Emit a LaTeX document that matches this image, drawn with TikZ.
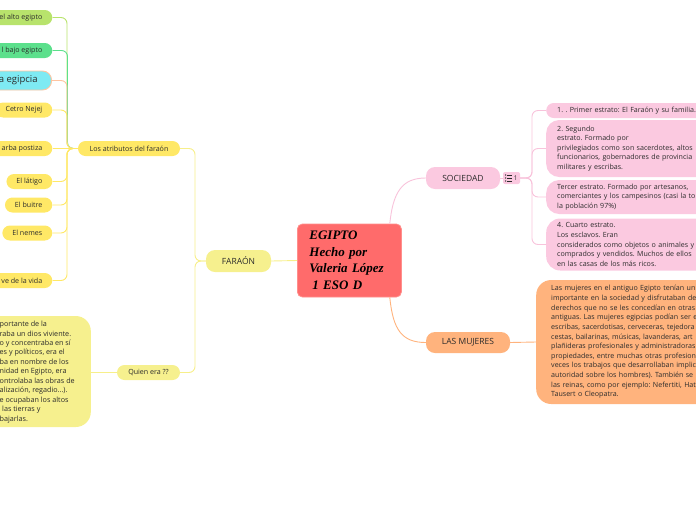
\documentclass[tikz,border=0pt]{standalone}
\usepackage{fontspec}
\setmainfont{Open Sans}
\newfontfamily\titlefont{Liberation Serif}
\definecolor{coral}{HTML}{FF6B6B}
\definecolor{coralb}{HTML}{FF8F8C}
\definecolor{paley}{HTML}{F6F08E}
\definecolor{yel}{HTML}{FFE866}
\definecolor{limec}{HTML}{B8E36C}
\definecolor{grn}{HTML}{5CE08C}
\definecolor{cyn}{HTML}{7EEAF3}
\definecolor{peach}{HTML}{FFC4A0}
\definecolor{pnk}{HTML}{FBC9E0}
\definecolor{pnkline}{HTML}{F8C3DB}
\definecolor{org}{HTML}{FFB37D}
\definecolor{txt}{HTML}{2B2B2B}
\tikzset{
  pill/.style={rounded corners=7.5pt, minimum height=15pt, inner xsep=10pt, inner ysep=0pt,
    font=\fontsize{7.1}{8.4}\selectfont, text=txt},
  topic/.style={rounded corners=9pt, minimum height=22pt, inner ysep=0pt,
    font=\fontsize{8.5}{10}\selectfont, text=txt},
  bigbox/.style={inner xsep=11pt, inner ysep=0pt, align=left, text width=220pt,
    font=\fontsize{7.1}{9.65}\selectfont, text=txt},
  conn/.style={line width=0.9pt, rounded corners=6pt},
}
\frenchspacing
\begin{document}
\begin{tikzpicture}[x=1pt,y=-1pt]
\useasboundingbox (0,0) rectangle (696,520);
\clip (0,0) rectangle (696,520);

% central topic
\node[fill=coral, draw=coralb, line width=0.8pt, rounded corners=5pt, anchor=west,
  minimum height=73pt, text width=80pt, inner xsep=12pt, align=left, text=black,
  font=\titlefont\bfseries\itshape\fontsize{13}{16.5}\selectfont] (c) at (297,260.5)
  {EGIPTO\\Hecho por\\Valeria López\\\hspace*{3pt}1 ESO D};

% FARAON branch
\node[topic, fill=paley, minimum width=65pt] (far) at (238.5,261) {FARAÓN};
\node[pill, fill=yel, minimum width=102pt] (atr) at (129,148.5) {Los atributos del faraón};
\node[pill, fill=paley, minimum width=63pt] (quien) at (148.5,372.5) {Quien era ??};

\node[fill=paley, rounded corners=15pt, minimum width=200pt, minimum height=111pt,
  anchor=east] (qbox) at (91,371.5) {};
\node[inner sep=0pt, anchor=west, align=left, font=\fontsize{7.2}{9.45}\selectfont, text=txt]
  (qtext) at (-0.5,372) {portante de la\\raba un dios viviente.\\o y concentraba en sí\\es y políticos, era el\\ba en nombre de los\\nidad en Egipto, era\\ontrolaba las obras de\\alización, regadio...).\\e ocupaban los altos\\\hspace*{2.5pt}las tierras y\\bajarlas.};

% attributes
\node[pill, fill=limec, anchor=east] (alto) at (52.5,17.5) {\hspace*{20pt}el alto egipto};
\node[pill, fill=grn, anchor=east] (bajo) at (52.5,50.5) {\hspace*{20pt}l bajo egipto};
\node[pill, fill=cyn, draw=peach, line width=0.9pt, rounded corners=9pt, minimum height=19pt,
  inner xsep=14pt, font=\fontsize{9.5}{11}\selectfont, anchor=east] (egip) at (52,80.5) {\hspace*{20pt}a egipcia};
\node[pill, fill=yel, anchor=east] (cetro) at (52.5,110) {Cetro Nejej};
\node[pill, fill=yel, anchor=east] (barba) at (52.5,148.5) {\hspace*{20pt}arba postiza};
\node[pill, fill=yel, anchor=east] (latigo) at (52.5,181.5) {El látigo};
\node[pill, fill=yel, anchor=east] (buitre) at (52.5,205) {El buitre};
\node[pill, fill=yel, anchor=east] (nemes) at (52.5,233) {El nemes};
\node[pill, fill=yel, anchor=east] (llave) at (52.5,280.5) {\hspace*{20pt}ve de la vida};

% SOCIEDAD branch
\node[topic, fill=pnk, minimum width=74pt] (soc) at (463,178) {SOCIEDAD};
\node[fill=pnk, rounded corners=2pt, minimum width=17pt, minimum height=12pt, inner sep=0pt]
  (badge) at (511.5,178) {};
\node[inner sep=0pt, font=\fontsize{6.5}{7}\selectfont, text=txt] (badgenum) at (515.8,178.3) {1};
\foreach \yy in {175,178,181}{
  \fill[txt] (505.6,\yy) circle (0.65pt);
  \draw[txt, line width=0.6pt] (507.2,\yy) -- (511.5,\yy);
}

\node[bigbox, fill=pnk, rounded corners=7.5pt, minimum height=15pt, anchor=west] (p1) at (546,110.5)
  {1. . Primer estrato: El Faraón y su familia.};
\node[bigbox, fill=pnk, rounded corners=13pt, minimum height=57pt, anchor=west] (p2) at (546,148.5)
  {2. Segundo\\estrato. Formado por\\privilegiados como son sacerdotes, altos\\funcionarios, gobernadores de provincia\\militares y escribas.};
\node[bigbox, fill=pnk, rounded corners=13pt, minimum height=34pt, anchor=west] (p3) at (546,197)
  {Tercer estrato. Formado por artesanos,\\comerciantes y los campesinos (casi la to\\la población 97\%)};
\node[bigbox, fill=pnk, rounded corners=14pt, minimum height=52pt, anchor=west] (p4) at (546,244.5)
  {4. Cuarto estrato.\\Los esclavos. Eran\\considerados como objetos o animales y\\comprados y vendidos. Muchos de ellos\\en las casas de los más ricos.};

% LAS MUJERES branch
\node[topic, fill=org, minimum width=84pt, minimum height=21pt] (muj) at (468,342.5) {LAS MUJERES};
\node[bigbox, fill=org, rounded corners=15pt, minimum height=124pt, inner xsep=15pt, anchor=west] (obox) at (536,342)
  {Las mujeres en el antiguo Egipto tenían un\\importante en la sociedad y disfrutaban de\\derechos que no se les concedían en otras\\antiguas. Las mujeres egipcias podían ser e\\escribas, sacerdotisas, cerveceras, tejedora\\cestas, bailarinas, músicas, lavanderas, art\\plañideras profesionales y administradoras\\propiedades, entre muchas otras profesion\\veces los trabajos que desarrollaban implic\\autoridad sobre los hombres). También se i\\las reinas, como por ejemplo: Nefertiti, Hat\\Tausert o Cleopatra.};

% connectors
\draw[conn, paley!90!yel] (c.west) -- (far.east);
\draw[conn, paley!90!yel] (far.west) -- (195,261) -- (195,148.5) -- (atr.east);
\draw[conn, paley!90!yel] (far.west) -- (195,261) -- (195,372.5) -- (quien.east);
\draw[conn, paley!90!yel] (quien.west) -- (qbox.east |- quien.west);

\draw[conn, limec] (atr.west) -- (67,148.5) -- (67,17.5) -- (alto.east);
\draw[conn, grn] (atr.west) -- (67.5,148.5) -- (67.5,50.5) -- (bajo.east);
\draw[conn, peach] (atr.west) -- (67,148.5) -- (67,80.5) -- (egip.east);
\draw[conn, yel] (atr.west) -- (67,148.5) -- (67,110) -- (cetro.east);
\draw[conn, yel] (atr.west) -- (barba.east);
\draw[conn, yel] (atr.west) -- (67,148.5) -- (67,181.5) -- (latigo.east);
\draw[conn, yel] (atr.west) -- (67,148.5) -- (67,205) -- (buitre.east);
\draw[conn, yel] (atr.west) -- (67,148.5) -- (67,233) -- (nemes.east);
\draw[conn, yel] (atr.west) -- (67,148.5) -- (67,280.5) -- (llave.east);

\coordinate (ctop) at ([xshift=-12pt]c.north east);
\coordinate (cbot) at ([xshift=-12pt]c.south east);
\draw[line width=0.9pt, pnkline] (ctop) .. controls (393,192) and (402,178) .. (soc.west);
\draw[line width=0.9pt, org] (cbot) .. controls (393,330) and (402,342.5) .. (muj.west);

\draw[conn, pnkline] (soc.east) -- (badge.west);
\draw[conn, pnkline] (badge.east) -- (532,178) -- (532,110.5) -- (p1.west);
\draw[conn, pnkline] (badge.east) -- (532,178) -- (532,148.5) -- (p2.west);
\draw[conn, pnkline] (badge.east) -- (532,178) -- (532,197) -- (p3.west);
\draw[conn, pnkline] (badge.east) -- (532,178) -- (532,244.5) -- (p4.west);

\draw[conn, org] (muj.east) -- (obox.west);
\end{tikzpicture}
\end{document}
